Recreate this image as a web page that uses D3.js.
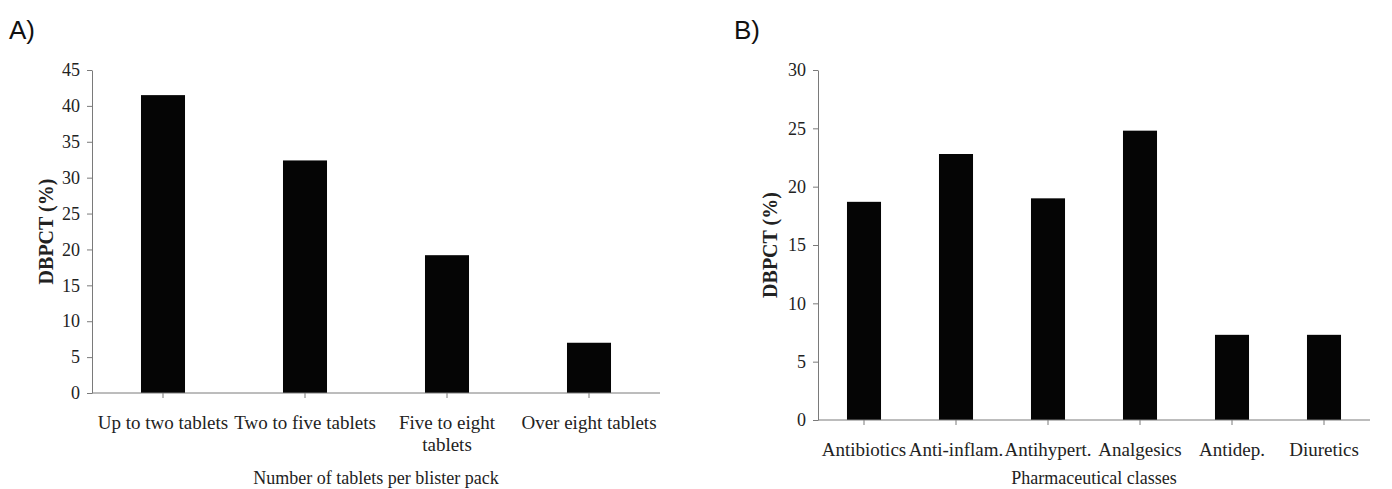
<!DOCTYPE html>
<html><head>
<meta charset="utf-8">
<script src="https://d3js.org/d3.v7.min.js"></script>
<style>
  body { margin: 0; background: #fff; }
  svg text, svg tspan { font-family: "Liberation Serif", "Times New Roman", serif; fill: #222; }
  svg text.panel-label { font-family: "Liberation Sans", Arial, sans-serif; font-size: 26px; fill: #111; }
  .axis path, .axis line { stroke: #7a7a7a; }
</style>
</head>
<body>
<svg id="chart" width="1392" height="489"></svg>
<script>
// panel A data
let tabletCats = ["Up to two tablets", "Two to five tablets", "Five to eight\ntablets", "Over eight tablets"];
let tabletVals = [41.5, 32.4, 19.2, 7.0];
let tabletTicks = [0, 5, 10, 15, 20, 25, 30, 35, 40, 45];

// panel B data
let classCats = ["Antibiotics", "Anti-inflam.", "Antihypert.", "Analgesics", "Antidep.", "Diuretics"];
let classVals = [18.7, 22.8, 19.0, 24.8, 7.3, 7.3];
let classTicks = [0, 5, 10, 15, 20, 25, 30];

let svg = d3.select("#chart");
let serif = '"Liberation Serif", "Times New Roman", serif';

// draws one bar panel
function drawPanel(o) {
  let x = d3.scaleBand().domain(o.cats).range([o.x0, o.x1])
    .paddingInner(o.pad).paddingOuter(o.pad / 2);
  let y = d3.scaleLinear().domain([0, o.max]).range([o.y0, o.y1]);
  let g = svg.append("g");

  // y axis
  let ya = g.append("g").attr("class", "axis")
    .attr("transform", `translate(${o.x0},0)`)
    .attr("font-family", serif)
    .call(d3.axisLeft(y).tickValues(o.ticks).tickSize(5).tickSizeOuter(0).tickPadding(7));
  ya.attr("font-family", serif).attr("font-size", 18);
  ya.selectAll("text").attr("fill", "#222");

  // bars
  g.selectAll("rect").data(o.vals).enter().append("rect")
    .attr("x", (d, i) => x(o.cats[i]))
    .attr("y", d => y(d))
    .attr("width", x.bandwidth())
    .attr("height", d => y(0) - y(d))
    .attr("fill", "#050505");

  // x axis line and ticks
  let xa = g.append("g").attr("class", "axis");
  xa.append("line").attr("x1", o.x0).attr("x2", o.x1).attr("y1", o.y0).attr("y2", o.y0);
  o.cats.forEach(c => {
    let cx = x(c) + x.bandwidth() / 2;
    xa.append("line").attr("x1", cx).attr("x2", cx).attr("y1", o.y0).attr("y2", o.y0 + 5);
    let t = g.append("text").attr("x", cx).attr("y", o.y0 + 36)
      .attr("text-anchor", "middle").attr("font-family", serif).style("font-size", "19px");
    c.split("\n").forEach((line, k) => {
      t.append("tspan").attr("x", cx).attr("dy", k == 0 ? 0 : 22).text(line);
    });
  });

  // axis titles
  g.append("text").attr("x", (o.x0 + o.x1) / 2).attr("y", o.titleY)
    .attr("text-anchor", "middle").style("font-size", "18px").text(o.xTitle);
  g.append("text")
    .attr("transform", `translate(${o.yTitleX},${(o.y0 + o.y1) / 2}) rotate(-90)`)
    .attr("text-anchor", "middle").style("font-size", "20px").style("font-weight", "bold")
    .text("DBPCT (%)");

  svg.append("text").attr("class", "panel-label").attr("x", o.labelX).attr("y", 39).text(o.label);
}

drawPanel({
  cats: tabletCats, vals: tabletVals, ticks: tabletTicks, max: 45,
  x0: 92, x1: 660, y0: 393, y1: 70, pad: 0.69,
  xTitle: "Number of tablets per blister pack", titleY: 484, yTitleX: 53,
  label: "A)", labelX: 9
});

drawPanel({
  cats: classCats, vals: classVals, ticks: classTicks, max: 30,
  x0: 818, x1: 1370, y0: 420, y1: 70, pad: 0.63,
  xTitle: "Pharmaceutical classes", titleY: 484, yTitleX: 777,
  label: "B)", labelX: 734
});
</script>
</body>
</html>
